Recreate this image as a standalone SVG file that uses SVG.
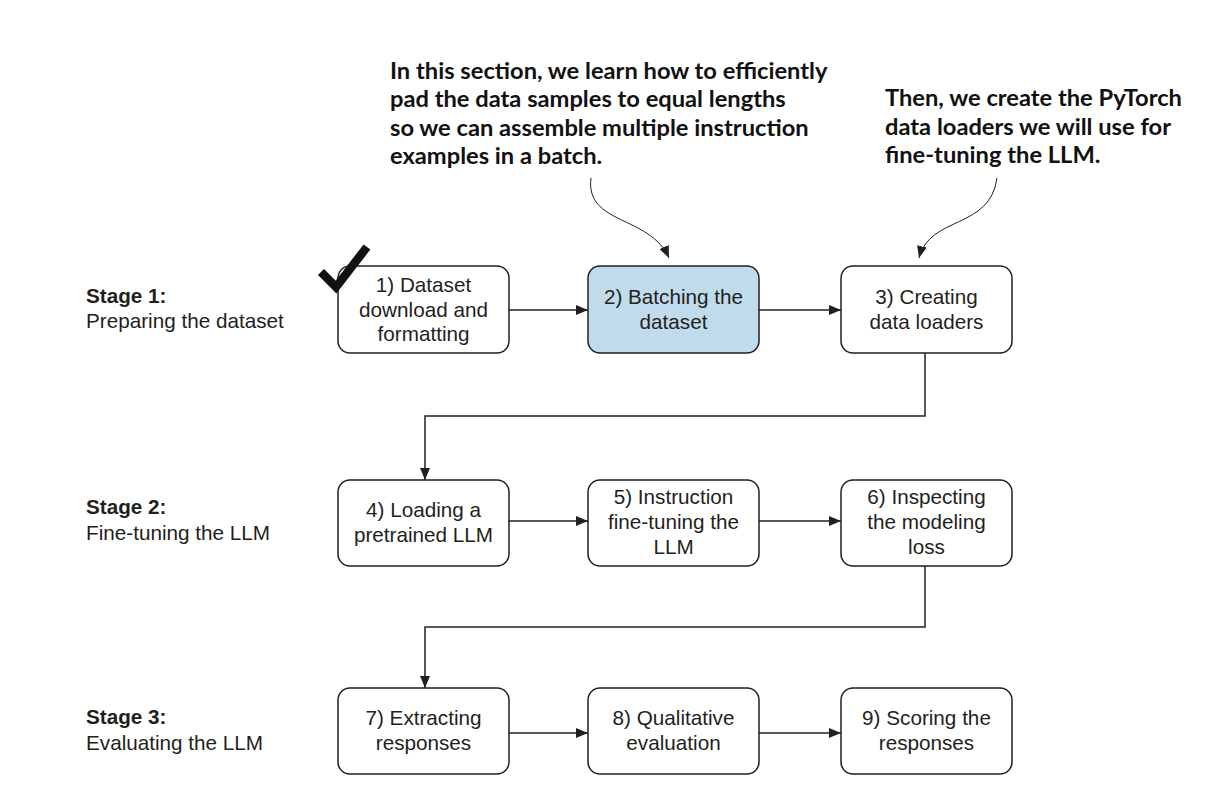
<svg xmlns="http://www.w3.org/2000/svg" width="1222" height="802" viewBox="0 0 1222 802">
<style>
.box{fill:#fff;stroke:#231f20;stroke-width:1.5}
.hl{fill:#c0dbec}
.t{font-family:Arial,"Liberation Sans",sans-serif;font-size:20.7px;fill:#231f20;text-anchor:middle}
.s{font-family:Arial,"Liberation Sans",sans-serif;font-size:20.7px;fill:#231f20}
.sb{font-weight:bold}
.a{font-family:Lato,"Open Sans",sans-serif;font-weight:bold;font-size:23.7px;fill:#111}
.c{fill:none;stroke:#231f20;stroke-width:1.5}
.cv{fill:none;stroke:#231f20;stroke-width:1}
</style>
<defs>
<marker id="ah" viewBox="0 0 12 10" refX="12" refY="5" markerWidth="12" markerHeight="10" markerUnits="userSpaceOnUse" orient="auto">
<path d="M0,0 L12,5 L0,10 Z" fill="#231f20"/>
</marker>
</defs>
<rect width="1222" height="802" fill="#fff"/>

<g id="stage1"><text class="s sb" x="86" y="303">Stage 1:</text><text class="s" x="86" y="328">Preparing the dataset</text></g>
<g id="stage2"><text class="s sb" x="86" y="514">Stage 2:</text><text class="s" x="86" y="540">Fine-tuning the LLM</text></g>
<g id="stage3"><text class="s sb" x="86" y="724">Stage 3:</text><text class="s" x="86" y="750">Evaluating the LLM</text></g>

<g id="note1"><text class="a" x="390" y="79">In this section, we learn how to efficiently</text><text class="a" x="390" y="107">pad the data samples to equal lengths</text><text class="a" x="390" y="136">so we can assemble multiple instruction</text><text class="a" x="390" y="164">examples in a batch.</text></g>
<g id="note2"><text class="a" x="885" y="106">Then, we create the PyTorch</text><text class="a" x="885" y="135">data loaders we will use for</text><text class="a" x="885" y="163">fine-tuning the LLM.</text></g>

<g id="n1"><rect class="box" x="338" y="266" width="171" height="87" rx="12"/><text class="t" x="423.5" y="292">1) Dataset</text><text class="t" x="423.5" y="316.5">download and</text><text class="t" x="423.5" y="341">formatting</text></g>
<g id="n2"><rect class="box hl" x="588" y="266" width="171" height="87" rx="12"/><text class="t" x="673.5" y="304">2) Batching the</text><text class="t" x="673.5" y="329">dataset</text></g>
<g id="n3"><rect class="box" x="841" y="266" width="171" height="87" rx="12"/><text class="t" x="926.5" y="304">3) Creating</text><text class="t" x="926.5" y="329">data loaders</text></g>

<g id="check"><path d="M321,272 L336,287 L367,247" fill="none" stroke="#111" stroke-width="8.5"/></g>

<g id="n4"><rect class="box" x="338" y="480" width="171" height="86" rx="12"/><text class="t" x="423.5" y="517">4) Loading a</text><text class="t" x="423.5" y="542">pretrained LLM</text></g>
<g id="n5"><rect class="box" x="588" y="480" width="171" height="86" rx="12"/><text class="t" x="673.5" y="504">5) Instruction</text><text class="t" x="673.5" y="529">fine-tuning the</text><text class="t" x="673.5" y="554">LLM</text></g>
<g id="n6"><rect class="box" x="841" y="480" width="171" height="86" rx="12"/><text class="t" x="926.5" y="504">6) Inspecting</text><text class="t" x="926.5" y="529">the modeling</text><text class="t" x="926.5" y="554">loss</text></g>

<g id="n7"><rect class="box" x="338" y="688" width="171" height="86" rx="12"/><text class="t" x="423.5" y="725">7) Extracting</text><text class="t" x="423.5" y="750">responses</text></g>
<g id="n8"><rect class="box" x="588" y="688" width="171" height="86" rx="12"/><text class="t" x="673.5" y="725">8) Qualitative</text><text class="t" x="673.5" y="750">evaluation</text></g>
<g id="n9"><rect class="box" x="841" y="688" width="171" height="86" rx="12"/><text class="t" x="926.5" y="725">9) Scoring the</text><text class="t" x="926.5" y="750">responses</text></g>

<g id="connectors">
<path class="c" d="M509,310 L588,310" marker-end="url(#ah)"/>
<path class="c" d="M759,310 L841,310" marker-end="url(#ah)"/>
<path class="c" d="M925,353 L925,416 L425,416 L425,480" marker-end="url(#ah)"/>
<path class="c" d="M509,521 L588,521" marker-end="url(#ah)"/>
<path class="c" d="M759,521 L841,521" marker-end="url(#ah)"/>
<path class="c" d="M925,566 L925,627 L425,627 L425,688" marker-end="url(#ah)"/>
<path class="c" d="M509,733 L588,733" marker-end="url(#ah)"/>
<path class="c" d="M759,733 L841,733" marker-end="url(#ah)"/>
<path class="cv" d="M591,178 C585,225 650,215 669,258" marker-end="url(#ah)"/>
<path class="cv" d="M997,178 C990,230 930,215 919,258" marker-end="url(#ah)"/>
</g>
</svg>
